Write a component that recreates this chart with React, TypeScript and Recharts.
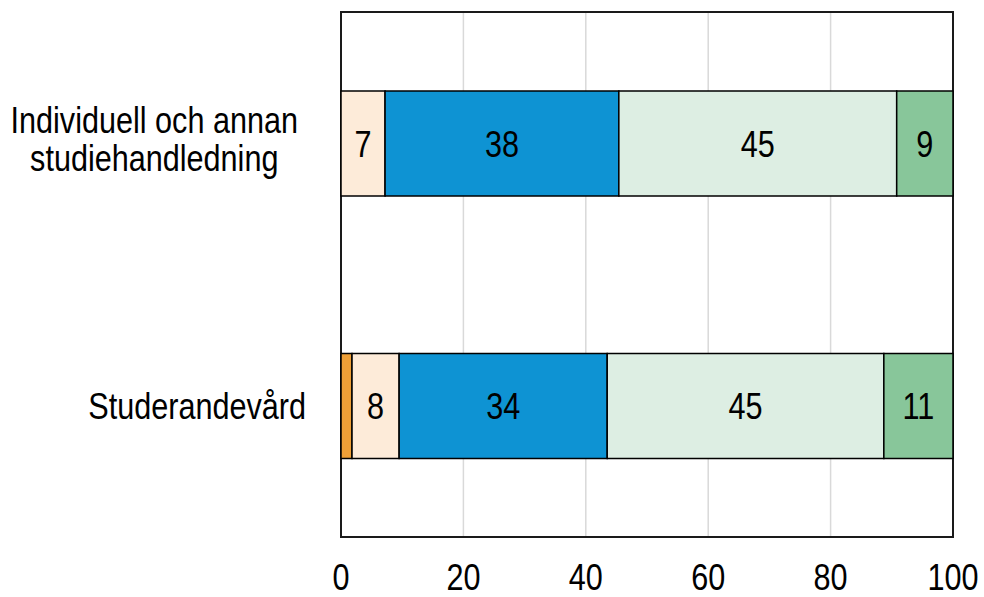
import React from 'react';
import {
    BarChart,
    Bar,
    XAxis,
    YAxis,
    CartesianGrid,
    ReferenceArea,
    LabelList,
} from 'recharts';

const categories = ['Individuell och annan\nstudiehandledning', 'Studerandevård'];
const orange = [0, 1.8];
const peach = [7.2, 7.7];
const blue = [38.2, 34.0];
const paleGreen = [45.4, 45.2];
const green = [9.2, 11.3];
const xTicks = [0, 20, 40, 60, 80, 100];

const data = categories.map((name, i) => ({
    name,
    a: orange[i],
    b: peach[i],
    c: blue[i],
    d: paleGreen[i],
    e: green[i],
}));

const FONT = "'Liberation Sans', Arial, sans-serif";
const FS = 37;
const SX = 0.827;

let ctx: CanvasRenderingContext2D | null = null;
function measure(s: string) {
    if (!ctx) {
        ctx = document.createElement('canvas').getContext('2d');
    }
    if (!ctx) return s.length * FS * 0.5;
    ctx.font = `${FS}px ${FONT}`;
    return ctx.measureText(s).width;
}

function CategoryTick({ x, y, payload }: any) {
    const lines = String(payload.value).split('\n');
    if (lines.length === 1) {
        const right = x - 35;
        return (
            <text
                transform={`translate(${right},${y + 13}) scale(${SX},1)`}
                textAnchor="end"
                fontSize={FS}
                fontFamily={FONT}
                fill="#000"
            >
                {lines[0]}
            </text>
        );
    }
    const block = Math.max(...lines.map(measure)) * SX;
    const cx = x - 43 - block / 2;
    const top = y - 10;
    return (
        <g>
            {lines.map((l, i) => (
                <text
                    key={i}
                    transform={`translate(${cx},${top + i * 38}) scale(${SX},1)`}
                    textAnchor="middle"
                    fontSize={FS}
                    fontFamily={FONT}
                    fill="#000"
                >
                    {l}
                </text>
            ))}
        </g>
    );
}

function ValueTick({ x, y, payload }: any) {
    return (
        <text
            transform={`translate(${x},${y + 53}) scale(${SX},1)`}
            textAnchor="middle"
            fontSize={FS}
            fontFamily={FONT}
            fill="#000"
        >
            {payload.value}
        </text>
    );
}

function SegmentLabel({ x, y, width, height, value }: any) {
    if (value == null || value < 3) return null;
    const cx = x + width / 2;
    const cy = y + height / 2;
    return (
        <text
            transform={`translate(${cx},${cy + 13}) scale(${SX},1)`}
            textAnchor="middle"
            fontSize={FS}
            fontFamily={FONT}
            fill="#000"
        >
            {Math.round(value)}
        </text>
    );
}

const series = [
    { key: 'a', fill: '#EE9F37' },
    { key: 'b', fill: '#FDEBD9' },
    { key: 'c', fill: '#0E93D3' },
    { key: 'd', fill: '#DDEEE3' },
    { key: 'e', fill: '#88C69A' },
];

export default function App() {
    return (
        <div style={{ position: 'absolute', left: 0, top: 0, background: '#fff' }}>
            <BarChart
                width={984}
                height={597}
                data={data}
                layout="vertical"
                margin={{ top: 12, right: 31, bottom: 0, left: 0 }}
                barSize={105}
            >
                <CartesianGrid horizontal={false} vertical stroke="#d9d9d9" strokeWidth={1.5} />
                <XAxis
                    type="number"
                    domain={[0, 100]}
                    ticks={xTicks}
                    axisLine={false}
                    tickLine={false}
                    tickSize={0}
                    tickMargin={0}
                    height={60}
                    tick={<ValueTick />}
                    interval={0}
                />
                <YAxis
                    type="category"
                    dataKey="name"
                    width={341}
                    axisLine={false}
                    tickLine={false}
                    tickSize={0}
                    tickMargin={0}
                    tick={<CategoryTick />}
                    interval={0}
                />
                {series.map((s) => (
                    <Bar
                        key={s.key}
                        dataKey={s.key}
                        stackId="1"
                        fill={s.fill}
                        stroke="#000"
                        strokeWidth={1.5}
                        isAnimationActive={false}
                    >
                        <LabelList dataKey={s.key} content={<SegmentLabel />} />
                    </Bar>
                ))}
                <ReferenceArea x1={0} x2={100} fill="none" stroke="#1a1a1a" strokeWidth={2} />
            </BarChart>
        </div>
    );
}
